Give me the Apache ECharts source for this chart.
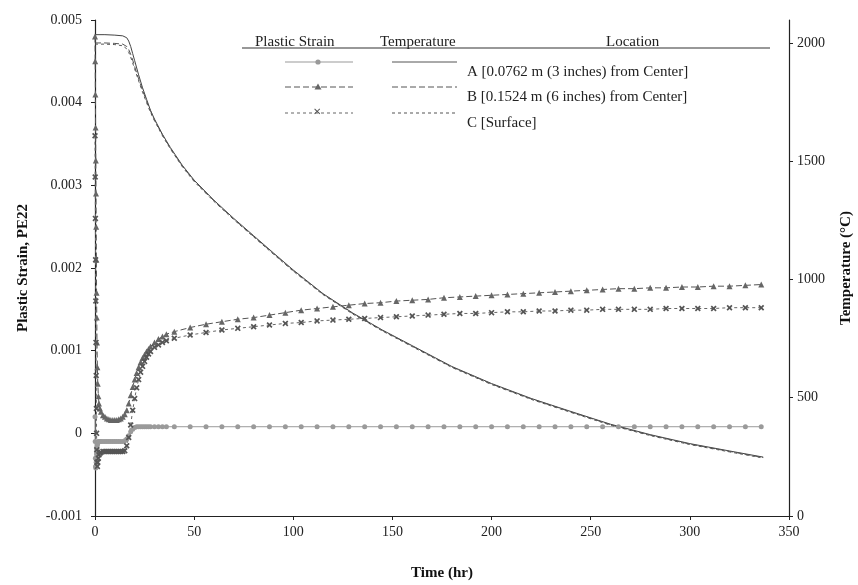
<!DOCTYPE html>
<html>
<head>
    <meta charset="utf-8">
    <title>Plastic Strain and Temperature</title>
    <script src="https://cdn.jsdelivr.net/npm/echarts@6/dist/echarts.min.js"></script>
    <style>
        html, body { margin: 0; padding: 0; background: #fff; }
    </style>
</head>
<body>
    <div id="chart" style="width: 858px; height: 585px;"></div>

    <script type="text/javascript">
        // ---------------- data ----------------
        // strain sample times (hr): dense start, then every 8 hr
        var tEarly = [0, 0.1, 0.2, 0.3, 0.4, 0.5, 0.6, 0.7, 0.8, 0.9,
            1.0, 1.2, 1.4, 1.7, 2, 2.5, 3, 4, 5, 6,
            7, 8, 9, 10, 11, 12, 13, 14, 15, 16,
            17, 18, 19, 20, 21, 22, 23, 24, 25, 26,
            27, 28, 30, 32, 34, 36];
        var tLate = [40, 48, 56, 64, 72, 80, 88, 96, 104, 112,
            120, 128, 136, 144, 152, 160, 168, 176, 184, 192,
            200, 208, 216, 224, 232, 240, 248, 256, 264, 272,
            280, 288, 296, 304, 312, 320, 328, 336];

        // plastic strain PE22, location A
        var strainAEarly = [0.0002, -0.0001, -0.0003, -0.0004, -0.00042, -0.0004, -0.00035, -0.0003, -0.00025, -0.0002,
            -0.00017, -0.00014, -0.00012, -0.0001, -0.0001, -0.0001, -0.0001, -0.0001, -0.0001, -0.0001,
            -0.0001, -0.0001, -0.0001, -0.0001, -0.0001, -0.0001, -0.0001, -0.0001, -0.00009, -0.00007,
            -0.00003, 0.00002, 0.00005, 0.00007, 0.00008, 0.00008, 0.00008, 0.00008, 0.00008, 0.00008,
            0.00008, 0.00008, 0.00008, 0.00008, 0.00008, 0.00008];
        var strainALate = [0.00008, 0.00008, 0.00008, 0.00008, 0.00008, 0.00008, 0.00008, 0.00008, 0.00008, 0.00008,
            0.00008, 0.00008, 0.00008, 0.00008, 0.00008, 0.00008, 0.00008, 0.00008, 0.00008, 0.00008,
            0.00008, 0.00008, 0.00008, 0.00008, 0.00008, 0.00008, 0.00008, 0.00008, 0.00008, 0.00008,
            0.00008, 0.00008, 0.00008, 0.00008, 0.00008, 0.00008, 0.00008, 0.00008];

        // location B
        var strainBEarly = [0.0048, 0.0045, 0.0041, 0.0037, 0.0033, 0.0029, 0.0025, 0.0021, 0.0017, 0.0014,
            0.0011, 0.0008, 0.0006, 0.00045, 0.00036, 0.0003, 0.00026, 0.00022, 0.0002, 0.00018,
            0.00017, 0.00016, 0.00016, 0.00016, 0.00016, 0.00017, 0.00018, 0.0002, 0.00023, 0.00028,
            0.00036, 0.00046, 0.00056, 0.00065, 0.00073, 0.0008, 0.00086, 0.00091, 0.00095, 0.00099,
            0.00102, 0.00105, 0.0011, 0.00114, 0.00117, 0.0012];
        var strainBLate = [0.00123, 0.00128, 0.00132, 0.00135, 0.00138, 0.0014, 0.00143, 0.00146, 0.00149, 0.00151,
            0.00153, 0.00155, 0.00157, 0.00158, 0.0016, 0.00161, 0.00162, 0.00164, 0.00165, 0.00166,
            0.00167, 0.00168, 0.00169, 0.0017, 0.00171, 0.00172, 0.00173, 0.00174, 0.00175, 0.00175,
            0.00176, 0.00176, 0.00177, 0.00177, 0.00178, 0.00178, 0.00179, 0.0018];

        // location C (surface)
        var strainCEarly = [0.0036, 0.0031, 0.0026, 0.0021, 0.0016, 0.0011, 0.0007, 0.0003, 0.0, -0.0002,
            -0.00035, -0.0004, -0.00035, -0.0003, -0.00026, -0.00024, -0.00023, -0.00022, -0.00022, -0.00022,
            -0.00022, -0.00022, -0.00022, -0.00022, -0.00022, -0.00022, -0.00022, -0.00022, -0.00021, -0.00015,
            -0.00005, 0.0001, 0.00028, 0.00042, 0.00055, 0.00065, 0.00074, 0.00081, 0.00087, 0.00092,
            0.00096, 0.00099, 0.00104, 0.00107, 0.0011, 0.00112];
        var strainCLate = [0.00115, 0.00119, 0.00122, 0.00125, 0.00127, 0.00129, 0.00131, 0.00133, 0.00134, 0.00136,
            0.00137, 0.00138, 0.00139, 0.0014, 0.00141, 0.00142, 0.00143, 0.00144, 0.00145, 0.00145,
            0.00146, 0.00147, 0.00147, 0.00148, 0.00148, 0.00149, 0.00149, 0.0015, 0.0015, 0.0015,
            0.0015, 0.00151, 0.00151, 0.00151, 0.00151, 0.00152, 0.00152, 0.00152];

        // temperature (deg C)
        var tTemp = [0, 5, 10, 14, 16, 17, 18, 19, 20, 22,
            24, 26, 28, 30, 34, 38, 44, 50, 60, 70,
            80, 90, 100, 115, 130, 145, 160, 180, 200, 220,
            240, 260, 280, 300, 320, 337];
        var tempA = [2035, 2035, 2033, 2030, 2022, 2008, 1985, 1955, 1925, 1865,
            1810, 1762, 1715, 1678, 1614, 1558, 1483, 1420, 1335, 1258,
            1185, 1112, 1040, 940, 858, 786, 720, 632, 560, 497,
            442, 388, 344, 306, 275, 249];
        var tempB = [2000, 2000, 1998, 1995, 1985, 1972, 1952, 1928, 1900, 1848,
            1800, 1755, 1712, 1675, 1611, 1555, 1480, 1417, 1332, 1255,
            1182, 1109, 1037, 938, 856, 784, 718, 630, 558, 495,
            440, 386, 342, 304, 273, 247];
        var tempC = [1995, 1995, 1993, 1988, 1975, 1960, 1940, 1915, 1890, 1840,
            1792, 1748, 1706, 1671, 1608, 1552, 1477, 1414, 1330, 1253,
            1180, 1107, 1035, 936, 854, 782, 716, 628, 556, 493,
            438, 384, 340, 302, 271, 245];

        var locationNames = ['A [0.0762 m (3 inches) from Center]', 'B [0.1524 m (6 inches) from Center]', 'C [Surface]'];

        // ---------------- helpers ----------------
        var tStrain = tEarly.concat(tLate);
        function pairs(xs, ys) {
            return xs.map(function (x, i) { return [x, ys[i]]; });
        }
        var FONT = 'Liberation Serif';
        var xMark = 'path://M2,0 L5,3 L8,0 L10,2 L7,5 L10,8 L8,10 L5,7 L2,10 L0,8 L3,5 L0,2 Z';

        var myChart = echarts.init(document.getElementById('chart'));

        // legend drawn as graphic block (table style of the original)
        var lg = [];
        var headTop = 35;
        lg.push({ type: 'text', left: 255, top: headTop, style: { text: 'Plastic Strain', font: '15px ' + FONT, fill: '#222' } });
        lg.push({ type: 'text', left: 380, top: headTop, style: { text: 'Temperature', font: '15px ' + FONT, fill: '#222' } });
        lg.push({ type: 'text', left: 606, top: headTop, style: { text: 'Location', font: '15px ' + FONT, fill: '#222' } });
        lg.push({ type: 'line', shape: { x1: 242, y1: 48, x2: 770, y2: 48 }, style: { stroke: '#333', lineWidth: 1.2 } });
        var rowY = [62, 87, 113];
        var dashes = [null, [6, 3], [3, 3]];
        var strainCol = ['#999', '#555', '#666'];
        for (var r = 0; r < 3; r++) {
            lg.push({ type: 'line', shape: { x1: 285, y1: rowY[r], x2: 353, y2: rowY[r] },
                style: { stroke: strainCol[r], lineWidth: 1, lineDash: dashes[r] } });
            lg.push({ type: 'line', shape: { x1: 392, y1: rowY[r], x2: 457, y2: rowY[r] },
                style: { stroke: '#555', lineWidth: 1, lineDash: dashes[r] } });
            lg.push({ type: 'text', left: 467, top: rowY[r] + 3, style: { text: locationNames[r], font: '15px ' + FONT, fill: '#222' } });
        }
        lg.push({ type: 'circle', shape: { cx: 318, cy: rowY[0], r: 2.6 }, style: { fill: '#999' } });
        lg.push({ type: 'polygon', shape: { points: [[318, rowY[1] - 3.5], [321.5, rowY[1] + 2.5], [314.5, rowY[1] + 2.5]] }, style: { fill: '#666' } });
        lg.push({ type: 'text', left: 313, top: rowY[2] - 6, style: { text: '✕', font: '10px DejaVu Sans', fill: '#555' } });

        var option = {
            animation: false,
            backgroundColor: '#fff',
            grid: { left: 95, right: 69, top: 20, bottom: 69, containLabel: false, outerBoundsMode: 'none' },
            xAxis: {
                type: 'value',
                min: 0, max: 350, interval: 50,
                name: 'Time (hr)',
                nameLocation: 'middle',
                nameGap: 50,
                nameTextStyle: { fontFamily: FONT, fontSize: 15, fontWeight: 'bold', color: '#111' },
                axisLine: { onZero: false, lineStyle: { color: '#222', width: 1.2 } },
                axisTick: { length: 4, lineStyle: { color: '#222' } },
                axisLabel: { fontFamily: FONT, fontSize: 14, color: '#222', margin: 9 },
                splitLine: { show: false }
            },
            yAxis: [
                {
                    type: 'value',
                    min: -0.001, max: 0.005, interval: 0.001,
                    name: 'Plastic Strain, PE22',
                    nameLocation: 'middle',
                    nameRotate: 90,
                    nameGap: 64,
                    nameTextStyle: { fontFamily: FONT, fontSize: 15, fontWeight: 'bold', color: '#111' },
                    axisLine: { show: true, onZero: false, lineStyle: { color: '#222', width: 1.2 } },
                    axisTick: { show: true, length: 4, lineStyle: { color: '#222' } },
                    axisLabel: { fontFamily: FONT, fontSize: 14, color: '#222', margin: 13 },
                    splitLine: { show: false }
                },
                {
                    type: 'value',
                    min: 0, max: 2097, interval: 500,
                    name: 'Temperature (°C)',
                    nameLocation: 'middle',
                    nameRotate: 90,
                    nameGap: 50,
                    nameTextStyle: { fontFamily: FONT, fontSize: 15, fontWeight: 'bold', color: '#111' },
                    axisLine: { show: true, onZero: false, lineStyle: { color: '#222', width: 1.2 } },
                    axisTick: { show: true, length: 4, lineStyle: { color: '#222' } },
                    axisLabel: {
                        fontFamily: FONT, fontSize: 14, color: '#222', margin: 8,
                        showMaxLabel: false,
                        formatter: function (v) { return v % 500 === 0 ? String(v) : ''; }
                    },
                    splitLine: { show: false }
                }
            ],
            graphic: lg,
            series: [
                {
                    name: 'Strain A', type: 'line', yAxisIndex: 0,
                    data: pairs(tStrain, strainAEarly.concat(strainALate)),
                    symbol: 'circle', symbolSize: 5,
                    itemStyle: { color: '#9a9a9a' },
                    lineStyle: { color: '#9a9a9a', width: 1 }
                },
                {
                    name: 'Strain B', type: 'line', yAxisIndex: 0,
                    data: pairs(tStrain, strainBEarly.concat(strainBLate)),
                    symbol: 'triangle', symbolSize: 6,
                    itemStyle: { color: '#666' },
                    lineStyle: { color: '#555', width: 1, type: [6, 3] }
                },
                {
                    name: 'Strain C', type: 'line', yAxisIndex: 0,
                    data: pairs(tStrain, strainCEarly.concat(strainCLate)),
                    symbol: xMark, symbolSize: 6,
                    itemStyle: { color: '#555' },
                    lineStyle: { color: '#666', width: 1, type: [3, 3] }
                },
                {
                    name: 'Temperature A', type: 'line', yAxisIndex: 1,
                    data: pairs(tTemp, tempA),
                    showSymbol: false, symbol: 'none',
                    lineStyle: { color: '#444', width: 1 }
                },
                {
                    name: 'Temperature B', type: 'line', yAxisIndex: 1,
                    data: pairs(tTemp, tempB),
                    showSymbol: false, symbol: 'none',
                    lineStyle: { color: '#555', width: 1, type: [6, 3] }
                },
                {
                    name: 'Temperature C', type: 'line', yAxisIndex: 1,
                    data: pairs(tTemp, tempC),
                    showSymbol: false, symbol: 'none',
                    lineStyle: { color: '#555', width: 1, type: [3, 3] }
                }
            ]
        };

        myChart.setOption(option);
    </script>
</body>
</html>
